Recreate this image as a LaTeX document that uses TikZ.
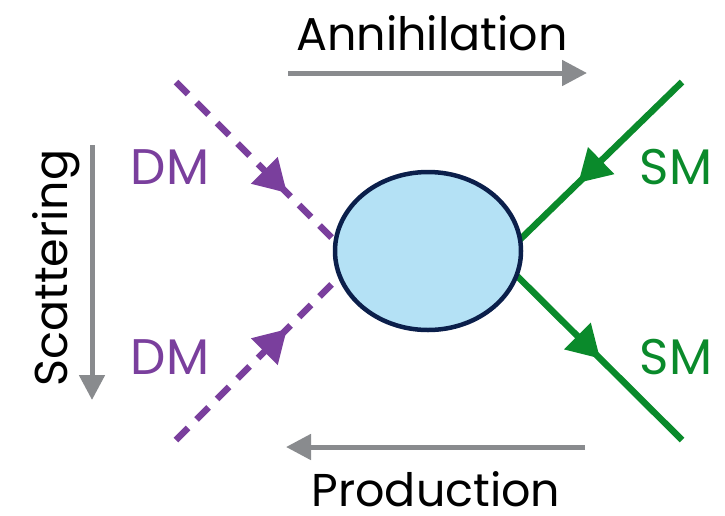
\documentclass[tikz,border=0pt]{standalone}
\usepackage{fontspec}
\setmainfont{Poppins}
\usetikzlibrary{arrows.meta,decorations.markings,shapes.geometric}
\definecolor{dmpurple}{HTML}{7A3F9D}
\definecolor{smgreen}{HTML}{0A8A2B}
\definecolor{flowgray}{HTML}{898B8E}
\definecolor{blobfill}{HTML}{B4E1F5}
\definecolor{blobdraw}{HTML}{0B1F4B}
\tikzset{
  dmline/.style={draw=dmpurple, line width=6.5pt, dash pattern=on 17pt off 12pt},
  smline/.style={draw=smgreen, line width=6.5pt},
  midtip/.style={postaction={decorate}, decoration={markings,
     mark=at position #1 with {\arrow{Triangle[length=32pt,width=36pt]}}}},
  flow/.style={draw=flowgray, line width=5pt, -{Triangle[length=25pt,width=25pt]}},
  flowtext/.style={font=\fontsize{46}{46}\selectfont, text=black, inner sep=0pt, text depth=0pt},
  partlabel/.style={font=\fontsize{50}{50}\selectfont, inner sep=0pt, text depth=0pt},
  blob/.style={ellipse, draw=blobdraw, line width=4.5pt, fill=blobfill,
     minimum width=186pt, minimum height=158pt, inner sep=0pt}
}
\begin{document}
\begin{tikzpicture}[x=1pt,y=-1pt]
\useasboundingbox (0,0) rectangle (725,515);
% end points and vertices
\coordinate (dmA) at (176,82);
\coordinate (dmB) at (176,440);
\coordinate (smA) at (682,82);
\coordinate (smB) at (682,440);
\coordinate (vL) at (355,261);
\coordinate (vR) at (500,259);
% particle lines
\draw[dmline, midtip=0.62] (dmA) -- (vL);
\draw[dmline, midtip=0.62] (dmB) -- (vL);
\draw[smline, midtip=0.57] (smA) -- (vR);
\draw[smline, midtip=0.55] (vR) -- (smB);
% blob
\node[blob] (blob) at (428,251) {};
% labels
\node[partlabel, text=dmpurple] (dm1) at (170,167) {DM};
\node[partlabel, text=dmpurple] (dm2) at (170,357) {DM};
\node[partlabel, text=smgreen] (sm1) at (676,167) {SM};
\node[partlabel, text=smgreen] (sm2) at (676,357) {SM};
% process arrows
\coordinate (anS) at (288,73);
\coordinate (anE) at (587,73);
\draw[flow] (anS) -- (anE);
\node[flowtext] (anT) at (432,33) {Annihilation};
\coordinate (prS) at (585,447);
\coordinate (prE) at (286,447);
\draw[flow] (prS) -- (prE);
\node[flowtext, anchor=base] (prT) at (436,506) {Production};
\coordinate (scS) at (92,145);
\coordinate (scE) at (92,400);
\draw[flow] (scS) -- (scE);
\node[flowtext, rotate=90] (scT) at (50,268) {Scattering};
\end{tikzpicture}
\end{document}
